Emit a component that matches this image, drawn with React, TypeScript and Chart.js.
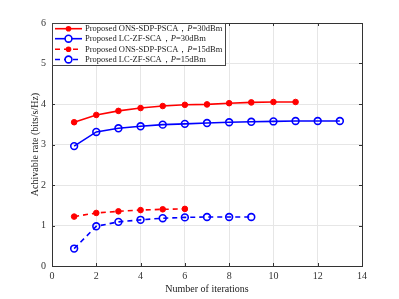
import React, { useEffect, useRef } from "react";
import { Chart, registerables } from "chart.js";
Chart.register(...registerables);

const iterations = [1, 2, 3, 4, 5, 6, 7, 8, 9, 10, 11, 12, 13];
const onsP30 = [3.55, 3.73, 3.83, 3.9, 3.95, 3.98, 3.99, 4.02, 4.04, 4.05, 4.05];
const lcP30 = [2.96, 3.31, 3.4, 3.45, 3.49, 3.51, 3.53, 3.55, 3.56, 3.57, 3.58, 3.58, 3.58];
const onsP15 = [1.22, 1.31, 1.35, 1.38, 1.4, 1.41];
const lcP15 = [0.43, 0.98, 1.09, 1.14, 1.18, 1.2, 1.21, 1.21, 1.21];
const legendNames = [
  "Proposed ONS-SDP-PSCA\uFF0C",
  "Proposed LC-ZF-SCA\uFF0C",
  "Proposed ONS-SDP-PSCA\uFF0C",
  "Proposed LC-ZF-SCA\uFF0C",
];
const legendPowers = ["=30dBm", "=30dBm", "=15dBm", "=15dBm"];
const xTitle = "Number of iterations";
const yTitle = "Achivable rate (bits/s/Hz)";

const FONT = "'Liberation Serif', 'Times New Roman', serif";
const RED = "#ff0000";
const BLUE = "#0000ff";

const toPts = (ys: number[]) => ys.map((y, i) => ({ x: iterations[i], y }));

export default function App() {
  const ref = useRef<HTMLCanvasElement>(null);
  useEffect(() => {
    document.body.style.margin = "0";
    const ctx = ref.current!.getContext("2d")!;
    const mk = (data: number[], color: string, filled: boolean, dashed: boolean) => ({
      data: toPts(data),
      borderColor: color,
      backgroundColor: filled ? color : "#ffffff",
      borderWidth: 1.6,
      borderDash: dashed ? [5, 4] : [],
      pointRadius: filled ? 2.8 : 3.4,
      pointBorderWidth: filled ? 1 : 1.6,
      pointBackgroundColor: filled ? color : "rgba(255,255,255,0)",
      pointBorderColor: color,
      showLine: true,
      fill: false,
      tension: 0,
    });
    const frame = {
      id: "frame",
      afterDraw(chart: any) {
        const c = chart.ctx;
        const a = chart.chartArea;
        const xs = chart.scales.x;
        const ys = chart.scales.y;
        c.save();
        c.strokeStyle = "#333";
        c.lineWidth = 1;
        c.setLineDash([]);
        // inward ticks
        c.beginPath();
        xs.ticks.forEach((t: any) => {
          const px = Math.round(xs.getPixelForValue(t.value)) + 0.5;
          c.moveTo(px, a.bottom); c.lineTo(px, a.bottom - 3);
          c.moveTo(px, a.top); c.lineTo(px, a.top + 3);
        });
        ys.ticks.forEach((t: any) => {
          const py = Math.round(ys.getPixelForValue(t.value)) + 0.5;
          c.moveTo(a.left, py); c.lineTo(a.left + 3, py);
          c.moveTo(a.right, py); c.lineTo(a.right - 3, py);
        });
        c.stroke();
        c.strokeRect(Math.round(a.left) + 0.5, Math.round(a.top) + 0.5, Math.round(a.right - a.left), Math.round(a.bottom - a.top));
        // titles
        c.fillStyle = "#222";
        c.font = `10px ${FONT}`;
        c.textAlign = "center";
        c.textBaseline = "middle";
        c.fillText(xTitle, (a.left + a.right) / 2, 289);
        c.save();
        c.translate(35, (a.top + a.bottom) / 2);
        c.rotate(-Math.PI / 2);
        c.fillText(yTitle, 0, 0);
        c.restore();
        // legend
        const lx = Math.round(a.left) + 0.5, ly = Math.round(a.top) + 0.5;
        const lw = 173, lh = 42;
        c.fillStyle = "#ffffff";
        c.fillRect(lx, ly, lw, lh);
        c.strokeStyle = "#444";
        c.strokeRect(lx, ly, lw, lh);
        const rows = [28.7, 38.7, 49.3, 59.5];
        chart.data.datasets.forEach((ds: any, i: number) => {
          const y = rows[i];
          c.strokeStyle = ds.borderColor;
          c.lineWidth = 1.6;
          c.setLineDash(ds.borderDash);
          c.beginPath(); c.moveTo(55, y); c.lineTo(82, y); c.stroke();
          c.setLineDash([]);
          c.beginPath();
          c.arc(68.5, y, ds.pointRadius, 0, Math.PI * 2);
          if (ds.pointRadius < 3) { c.fillStyle = ds.borderColor; c.fill(); }
          else { c.fillStyle = "#fff"; c.fill(); c.stroke(); }
          c.fillStyle = "#222";
          c.textAlign = "left";
          c.font = `8.5px ${FONT}`;
          let x = 85;
          c.fillText(legendNames[i], x, y + 0.5);
          x += c.measureText(legendNames[i]).width;
          c.font = `italic 8.5px ${FONT}`;
          c.fillText("P", x, y + 0.5);
          x += c.measureText("P").width;
          c.font = `8.5px ${FONT}`;
          c.fillText(legendPowers[i], x, y + 0.5);
        });
        c.restore();
      },
    };
    const chart = new Chart(ctx, {
      type: "scatter",
      data: {
        datasets: [
          mk(onsP30, RED, true, false),
          mk(lcP30, BLUE, false, false),
          mk(onsP15, RED, true, true),
          mk(lcP15, BLUE, false, true),
        ] as any,
      },
      options: {
        animation: false,
        responsive: false,
        layout: { padding: { left: 0, top: 23, right: 37, bottom: 0 } },
        plugins: { legend: { display: false }, tooltip: { enabled: false } },
        scales: {
          x: {
            type: "linear",
            min: 0,
            max: 14,
            ticks: { stepSize: 2, color: "#333", font: { family: FONT, size: 10 }, padding: 4 },
            grid: { color: "#e6e6e6", drawTicks: false },
            border: { display: false },
            afterFit: (s: any) => { s.height = 33; },
          },
          y: {
            min: 0,
            max: 6,
            ticks: { stepSize: 1, color: "#333", font: { family: FONT, size: 10 }, padding: 6 },
            grid: { color: "#e6e6e6", drawTicks: false },
            border: { display: false },
            afterFit: (s: any) => { s.width = 52; },
          },
        },
      } as any,
      plugins: [frame],
    });
    return () => chart.destroy();
  }, []);
  return (
    <div style={{ position: "absolute", left: 0, top: 0, width: 399, height: 299, background: "#fff" }}>
      <canvas ref={ref} width={399} height={299} />
    </div>
  );
}
